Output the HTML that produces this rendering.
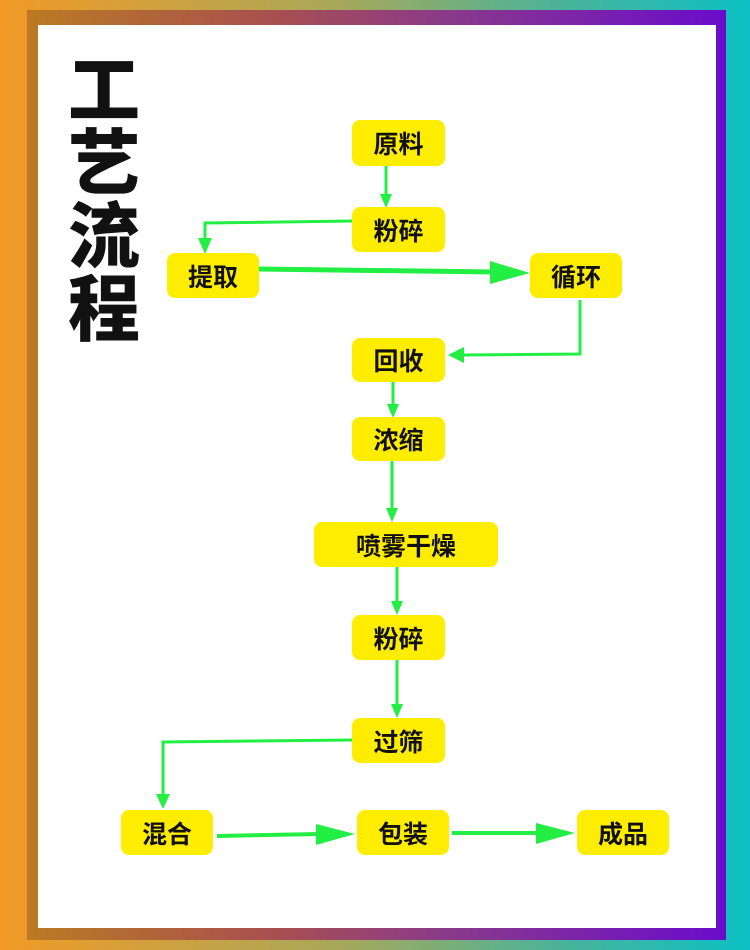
<!DOCTYPE html>
<html><head><meta charset="utf-8"><style>
body{margin:0;width:750px;height:950px;overflow:hidden;background:linear-gradient(90deg,#f29a26 0%,#a8a85a 45%,#4ab39a 75%,#0cc0c4 100%);position:relative;font-family:"Liberation Sans","Noto Sans CJK SC",sans-serif}
.f{position:absolute;left:27px;top:10px;width:699px;height:930px;background:linear-gradient(90deg,#bb7a22 0%,#a85050 35%,#8a3a8a 60%,#6a0ccc 100%)}
.w{position:absolute;left:38px;top:25px;width:678px;height:903px;background:#fff}
.b{position:absolute;background:#ffed00;border-radius:8px;font-weight:bold;font-size:25px;color:#111;display:flex;align-items:center;justify-content:center}
.t{position:absolute;left:66px;top:56px;width:76px;font-size:72px;line-height:73px;font-weight:900;color:#111;text-align:center}
svg{position:absolute;left:0;top:0}
</style></head><body>
<div class="f"></div><div class="w"></div>
<div class="t">工<br>艺<br>流<br>程</div>
<svg width="750" height="950"><g stroke="#22ee44" fill="none" stroke-width="3">
<path d="M386 166V196"/><path d="M352 221L205 223V240"/><path d="M259 269L495 272" stroke-width="5"/>
<path d="M580 300V354L462 355"/><path d="M393 382V406"/><path d="M392 461V510"/><path d="M397 567V603"/><path d="M397 660V706"/>
<path d="M352 740L163 742V796"/><path d="M217 836L320 834" stroke-width="4"/><path d="M452 833L540 833" stroke-width="4"/>
</g><g fill="#22ee44">
<path d="M380 194L386 208L392 194Z"/><path d="M198 238L205 254L212 238Z"/><path d="M490 261L530 273L490 284Z"/>
<path d="M464 347L448 355L464 363Z"/><path d="M387 404L393 418L399 404Z"/><path d="M386 508L392 522L398 508Z"/>
<path d="M391 601L397 615L403 601Z"/><path d="M391 704L397 718L403 704Z"/><path d="M156 794L163 809L170 794Z"/>
<path d="M316 824L355 834L316 845Z"/><path d="M536 823L575 833L536 844Z"/></g></svg>
<div class="b" style="left:352px;top:120px;width:93px;height:46px">原料</div>
<div class="b" style="left:352px;top:207px;width:93px;height:45px">粉碎</div>
<div class="b" style="left:167px;top:253px;width:92px;height:45px">提取</div>
<div class="b" style="left:530px;top:253px;width:92px;height:45px">循环</div>
<div class="b" style="left:352px;top:338px;width:93px;height:44px">回收</div>
<div class="b" style="left:352px;top:417px;width:93px;height:44px">浓缩</div>
<div class="b" style="left:314px;top:522px;width:184px;height:45px">喷雾干燥</div>
<div class="b" style="left:352px;top:615px;width:93px;height:45px">粉碎</div>
<div class="b" style="left:352px;top:718px;width:93px;height:45px">过筛</div>
<div class="b" style="left:121px;top:810px;width:92px;height:45px">混合</div>
<div class="b" style="left:357px;top:810px;width:92px;height:45px">包装</div>
<div class="b" style="left:577px;top:810px;width:92px;height:45px">成品</div>
</body></html>
